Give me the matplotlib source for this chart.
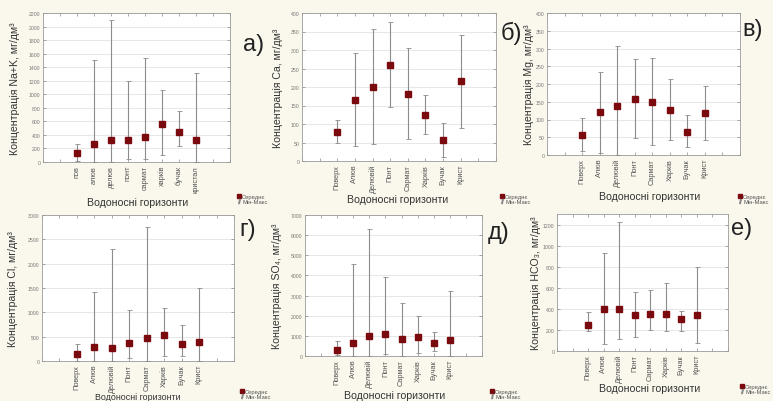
import matplotlib.pyplot as plt
from matplotlib.lines import Line2D

plt.rcParams["font.family"] = ["Liberation Sans", "DejaVu Sans"]

W, H = 773, 402

CATS_A = ["пов", "алюв", "делюв", "понт", "сармат", "харків", "бучак", "кристал"]
CATS = ["Поверх", "Алюв", "Делювій", "Понт", "Сармат", "Харків", "Бучак", "Крист"]

NAK_MEAN = [140, 270, 325, 325, 375, 560, 450, 325]
NAK_MIN = [10, 0, 0, 40, 40, 110, 240, 0]
NAK_MAX = [270, 1500, 2100, 1200, 1540, 1070, 760, 1310]

CA_MEAN = [78, 165, 200, 260, 182, 125, 57, 215]
CA_MIN = [50, 40, 45, 145, 60, 72, 12, 90]
CA_MAX = [110, 292, 358, 375, 305, 178, 103, 340]

MG_MEAN = [57, 120, 138, 157, 150, 127, 65, 117]
MG_MIN = [12, 5, 0, 47, 28, 43, 22, 42]
MG_MAX = [105, 235, 307, 270, 272, 213, 113, 193]

CL_MEAN = [150, 280, 270, 375, 470, 530, 350, 400]
CL_MIN = [0, 0, 0, 60, 0, 110, 110, 0]
CL_MAX = [340, 1410, 2310, 1050, 2750, 1090, 740, 1510]

SO4_MEAN = [280, 670, 980, 1100, 850, 930, 630, 800]
SO4_MIN = [40, 0, 0, 100, 0, 170, 230, 0]
SO4_MAX = [740, 4560, 6300, 3900, 2650, 2000, 1200, 3250]

HCO3_MEAN = [250, 395, 400, 345, 350, 350, 305, 340]
HCO3_MIN = [190, 70, 115, 130, 200, 190, 190, 80]
HCO3_MAX = [370, 930, 1220, 560, 575, 650, 380, 800]

PANELS = [
    # cats, mean, min, max, ymax, ystep, ylabel, letter
    (CATS_A, NAK_MEAN, NAK_MIN, NAK_MAX, 2200, 200, "Концентрація Na+K, мг/дм³", "а)"),
    (CATS, CA_MEAN, CA_MIN, CA_MAX, 400, 50, "Концентрація Ca, мг/дм³", "б)"),
    (CATS, MG_MEAN, MG_MIN, MG_MAX, 400, 50, "Концентрація Mg, мг/дм³", "в)"),
    (CATS, CL_MEAN, CL_MIN, CL_MAX, 3000, 500, "Концентрація Cl, мг/дм³", "г)"),
    (CATS, SO4_MEAN, SO4_MIN, SO4_MAX, 7000, 1000, "Концентрація SO₄, мг/дм³", "д)"),
    (CATS, HCO3_MEAN, HCO3_MIN, HCO3_MAX, 1300, 200, "Концентрація HCO₃, мг/дм³", "е)"),
]

# layout in pixels
BOXES = [(43, 14, 230, 163), (302, 14, 496, 162), (547, 14, 740, 156),
         (42, 216, 234, 362), (305, 216, 482, 357), (557, 215, 728, 352)]
YLAB_X = [20, 283, 534, 18, 282, 541]
XLAB = [(138, 203), (398, 200), (650, 197), (138, 398), (395, 396), (650, 389)]
XLAB_SIZE = [7.6, 7.6, 7.6, 6.4, 7.6, 7.6]
LEG = [(234, 200), (497, 200), (735, 200), (237, 395), (487, 395), (737, 390)]
LETTER = [(243, 45), (501, 33), (742, 30), (239, 230), (488, 233), (731, 229)]

MARK = "#7a0a0e"
BAR = "#8c8c8c"


def main():
    fig = plt.figure(figsize=(W / 100, H / 100), dpi=100, facecolor="#faf7ec")

    for i, (cats, mean, lo, hi, ymax, ystep, ylab, letter) in enumerate(PANELS):
        l, t, r, b = BOXES[i]
        ax = fig.add_axes([l / W, 1 - b / H, (r - l) / W, (b - t) / H])
        ax.set_facecolor("white")

        x = list(range(2, 2 + len(cats)))
        err = [[m - a for m, a in zip(mean, lo)], [c - m for m, c in zip(mean, hi)]]
        ax.errorbar(x, mean, yerr=err, fmt="s", color=MARK, ms=3.8,
                    ecolor=BAR, elinewidth=0.8, capsize=1.8, capthick=0.6, zorder=3)

        ax.set_xlim(0, 11)
        ax.set_ylim(0, ymax)
        ax.set_xticks(range(0, 12))
        ax.set_xticklabels([""] * 2 + cats + [""] * 2, rotation=90,
                           fontsize=5.3, color="#555555")
        ax.set_yticks(range(0, ymax + 1, ystep))
        ax.tick_params(axis="y", labelsize=3.7, labelcolor="#777777")
        ax.tick_params(direction="in", length=2, width=0.5, color="#888888",
                       top=True, right=True, pad=2)
        ax.grid(axis="y", color="#dddddd", lw=0.5)
        ax.set_axisbelow(True)
        for s in ax.spines.values():
            s.set_color("#9a9a9a")
            s.set_linewidth(0.6)

        ax.set_ylabel(ylab, fontsize=7.6, color="#333333")
        ax.yaxis.set_label_coords((YLAB_X[i] - l) / (r - l), 0.5)

        xc, yc = XLAB[i]
        fig.text(xc / W, 1 - yc / H, "Водоносні горизонти", ha="center",
                 va="center", fontsize=XLAB_SIZE[i], color="#333333")

        lx, ly = LETTER[i]
        fig.text(lx / W, 1 - ly / H, letter, ha="left", va="center",
                 fontsize=17, color="#222222")

        handles = [
            Line2D([], [], marker="s", ls="none", color=MARK, ms=3),
            Line2D([], [], marker="$I$", ls="none", color=BAR, ms=3),
        ]
        gx, gy = LEG[i]
        ax.legend(handles, ["Середнє", "Мін-Макс"], loc="center left",
                  bbox_to_anchor=(gx / W, 1 - gy / H), bbox_transform=fig.transFigure,
                  frameon=False, fontsize=4.2, handlelength=0.6, handletextpad=0.3,
                  labelspacing=0.1, borderpad=0, labelcolor="#555555")

    fig.savefig("out.png", dpi=100, facecolor=fig.get_facecolor())


if __name__ == "__main__":
    main()
